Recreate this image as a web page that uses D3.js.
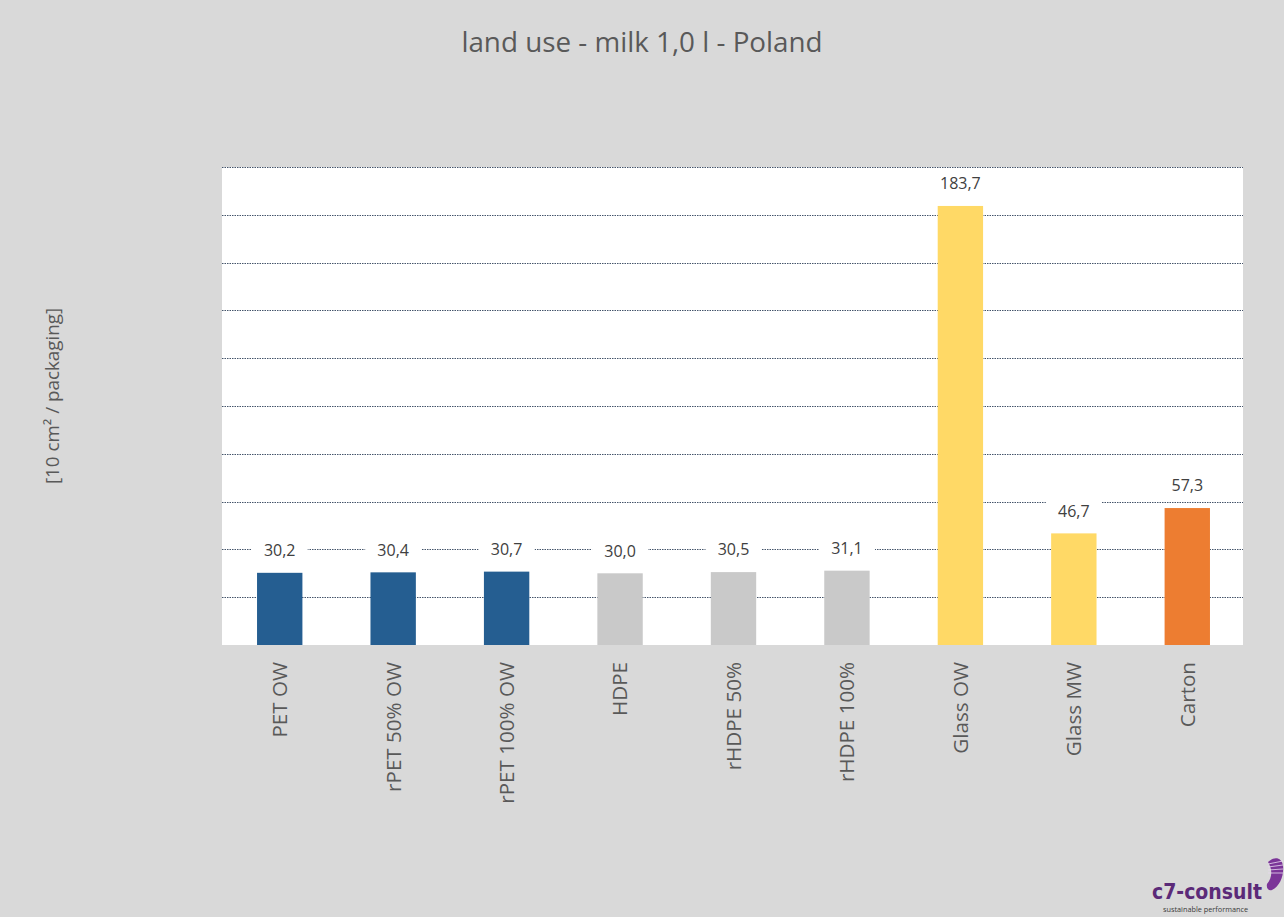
<!DOCTYPE html>
<html><head><meta charset="utf-8">
<script src="https://cdn.jsdelivr.net/npm/d3@7"></script>
<style>
html,body{margin:0;padding:0;background:#d9d9d9;}
svg{display:block;}
text{font-family:"Open Sans",sans-serif;}
</style></head>
<body>
<script>
const categories = ["PET OW","rPET 50% OW","rPET 100% OW","HDPE","rHDPE 50%","rHDPE 100%","Glass OW","Glass MW","Carton"];
const values = [30.2,30.4,30.7,30.0,30.5,31.1,183.7,46.7,57.3];
const labels = ["30,2","30,4","30,7","30,0","30,5","31,1","183,7","46,7","57,3"];
const colors = ["#255e91","#255e91","#255e91","#c9c9c9","#c9c9c9","#c9c9c9","#ffd966","#ffd966","#ed7d31"];
const gridTicks = [20,40,60,80,100,120,140,160,180,200];

const W = 1284, H = 917;
const pLeft = 222, pRight = 1243, pTop = 167, pBottom = 645;

const svg = d3.select("body").append("svg").attr("width", W).attr("height", H);
svg.append("rect").attr("width", W).attr("height", H).attr("fill", "#d9d9d9");

const x = d3.scaleBand().domain(categories).range([pLeft + 1, pRight + 1]).paddingInner(0.6).paddingOuter(0.3);
const y = d3.scaleLinear().domain([0, 200]).range([pBottom, pTop]);

svg.append("rect").attr("x", pLeft).attr("y", pTop).attr("width", pRight - pLeft).attr("height", pBottom - pTop).attr("fill", "#ffffff");

svg.append("g").selectAll("line").data(gridTicks).join("line")
  .attr("x1", pLeft).attr("x2", pRight)
  .attr("y1", d => Math.round(y(d)) + 0.5).attr("y2", d => Math.round(y(d)) + 0.5)
  .attr("stroke", "#44546a").attr("stroke-width", 1).attr("stroke-dasharray", "1.5,1");

svg.append("g").selectAll("rect").data(values).join("rect")
  .attr("x", (d, i) => x(categories[i]))
  .attr("y", d => y(d))
  .attr("width", x.bandwidth())
  .attr("height", d => pBottom - y(d))
  .attr("fill", (d, i) => colors[i]);

const lab = svg.append("g").selectAll("g").data(values).join("g")
  .attr("transform", (d, i) => `translate(${x(categories[i]) + x.bandwidth() / 2},${y(d) - 22.5})`);
lab.append("rect").attr("x", -28).attr("y", -13).attr("width", 56).attr("height", 26).attr("fill", "#ffffff");
lab.append("text").attr("text-anchor", "middle").attr("dy", "0.36em")
  .attr("font-size", 16).attr("fill", "#404040").text((d, i) => labels[i]);

svg.append("g").selectAll("text").data(categories).join("text")
  .attr("transform", d => `translate(${x(d) + x.bandwidth() / 2},662) rotate(-90)`)
  .attr("text-anchor", "end").attr("dy", "0.36em")
  .attr("font-size", 20.6).attr("fill", "#595959").text(d => d);

svg.append("text").attr("x", 642).attr("y", 52).attr("text-anchor", "middle")
  .attr("font-size", 27.8).attr("fill", "#595959").text("land use - milk 1,0 l - Poland");

svg.append("text").attr("transform", "translate(52,396) rotate(-90)").attr("text-anchor", "middle").attr("dy", "0.36em")
  .attr("font-size", 18.8).attr("fill", "#595959").text("[10 cm² / packaging]");

// logo
const logo = svg.append("g");
logo.append("text").attr("x", 1262).attr("y", 899).attr("text-anchor", "end")
  .attr("font-size", 21).attr("font-weight", "bold").attr("fill", "#5b2a78")
  .style("font-family", "'DejaVu Sans Condensed','Liberation Sans Narrow',sans-serif").text("c7-consult");
logo.append("text").attr("x", 1163).attr("y", 912)
  .attr("font-size", 7.3).attr("fill", "#3a3a3a").text("sustainable performance");
logo.append("path").attr("d", "M1268,862 C1274,856 1282,857 1283,866 C1284,876 1280,886 1272,890 C1269,891 1266,889 1267,884 C1272,878 1273,870 1268,862 Z")
  .attr("fill", "#7b3598");
logo.selectAll("line.s").data([0, 1, 2, 3]).join("line")
  .attr("x1", 1268).attr("y1", d => 864 + d * 3).attr("x2", 1283).attr("y2", d => 861 + d * 4)
  .attr("stroke", "#e8d8f0").attr("stroke-width", 0.8);
</script>
</body></html>
